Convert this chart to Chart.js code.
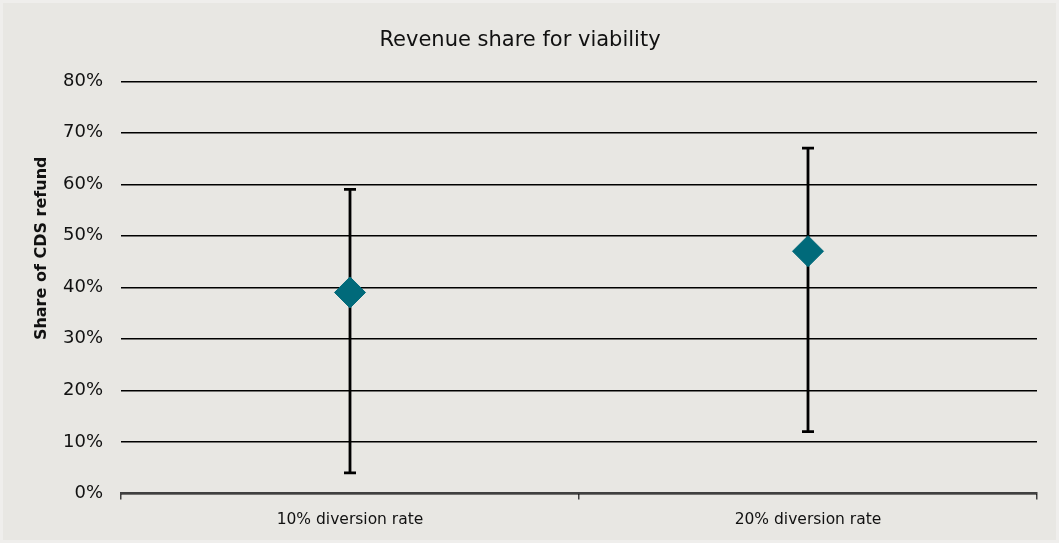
<!DOCTYPE html>
<html>
<head>
<meta charset="utf-8">
<script src="https://cdn.jsdelivr.net/npm/chart.js@4.4.1/dist/chart.umd.min.js"></script>
<style>
  html, body { margin: 0; padding: 0; background: #e8e7e3; }
  #wrap { width: 1059px; height: 543px; box-sizing: border-box; border: 3px solid #efeeec; }
</style>
</head>
<body>
<div id="wrap"><canvas id="chart" width="1053" height="537"></canvas></div>
<script>
const categories = ["10% diversion rate", "20% diversion rate"];
const shareValues = [39, 47];
const shareLow = [4, 12];
const shareHigh = [59, 67];
const yTicks = [0, 10, 20, 30, 40, 50, 60, 70, 80];

// draws the min/max whiskers under the diamonds
const errorBarPlugin = {
  id: "errorBars",
  beforeDatasetsDraw(chart) {
    const ctx = chart.ctx;
    const xScale = chart.scales.x;
    const yScale = chart.scales.y;
    ctx.save();
    ctx.strokeStyle = "#000";
    ctx.lineWidth = 2.8;
    categories.forEach((cat, i) => {
      const x = xScale.getPixelForValue(i);
      const yLow = yScale.getPixelForValue(shareLow[i]);
      const yHigh = yScale.getPixelForValue(shareHigh[i]);
      ctx.beginPath();
      ctx.moveTo(x, yLow);
      ctx.lineTo(x, yHigh);
      ctx.moveTo(x - 6, yLow);
      ctx.lineTo(x + 6, yLow);
      ctx.moveTo(x - 6, yHigh);
      ctx.lineTo(x + 6, yHigh);
      ctx.stroke();
    });
    ctx.restore();
  },
};

Chart.defaults.font.family = "'DejaVu Sans', sans-serif";
Chart.defaults.color = "#111";

// leading spaces push the rotated title up a bit, like the original
const yTitle = "\u00a0".repeat(14) + "Share of CDS refund";

new Chart(document.getElementById("chart"), {
  type: "line",
  data: {
    labels: categories,
    datasets: [
      {
        label: "Share of CDS refund",
        data: shareValues,
        showLine: false,
        pointStyle: "rectRot",
        pointRadius: 15.5,
        pointHoverRadius: 15.5,
        pointBackgroundColor: "#006a7a",
        pointBorderColor: "#006a7a",
        pointBorderWidth: 1,
      },
    ],
  },
  options: {
    responsive: false,
    animation: false,
    layout: { padding: { left: 0, right: 19, top: 0, bottom: 0 } },
    plugins: {
      legend: { display: false },
      tooltip: { enabled: false },
      title: {
        display: true,
        text: "Revenue share for viability",
        font: { size: 21, weight: "normal" },
        color: "#111",
        padding: { top: 25, bottom: 28 },
      },
    },
    scales: {
      x: {
        type: "category",
        offset: true,
        grid: {
          offset: true,
          drawOnChartArea: false,
          drawTicks: true,
          tickLength: 6,
          color: "#404040",
          lineWidth: 1.5,
        },
        border: { display: true, color: "#404040", width: 2 },
        ticks: { font: { size: 15.5 }, padding: 11 },
      },
      y: {
        min: 0,
        max: 80,
        afterBuildTicks: (axis) => {
          axis.ticks = yTicks.map((v) => ({ value: v }));
        },
        afterFit: (axis) => {
          axis.width = 118;
        },
        grid: { color: "#000", lineWidth: 1.4, drawTicks: false },
        border: { display: false },
        ticks: {
          font: { size: 18 },
          padding: 18,
          callback: (v) => v + "%",
        },
        title: {
          display: true,
          text: yTitle,
          font: { size: 16, weight: "bold" },
          padding: { top: 29, bottom: 6 },
        },
      },
    },
  },
  plugins: [errorBarPlugin],
});
</script>
</body>
</html>
